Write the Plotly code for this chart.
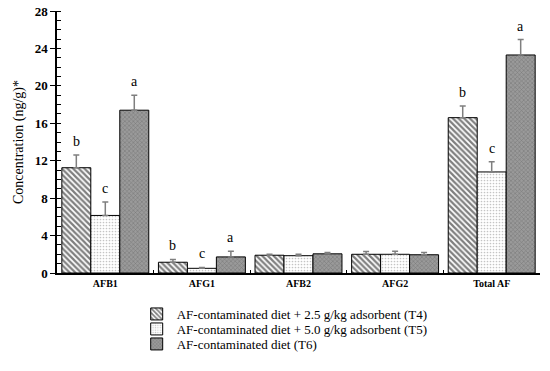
import plotly.graph_objects as go

categories = ["AFB1", "AFG1", "AFB2", "AFG2", "Total AF"]
series_names = [
    "AF-contaminated diet + 2.5 g/kg adsorbent (T4)",
    "AF-contaminated diet + 5.0 g/kg adsorbent (T5)",
    "AF-contaminated diet (T6)",
]
t4_values = [11.25, 1.15, 1.9, 2.0, 16.6]
t5_values = [6.15, 0.5, 1.85, 2.0, 10.8]
t6_values = [17.4, 1.72, 2.05, 1.95, 23.3]
t4_err = [1.35, 0.3, 0.1, 0.3, 1.25]
t5_err = [1.45, 0.1, 0.15, 0.32, 1.1]
t6_err = [1.6, 0.6, 0.15, 0.25, 1.65]
letter_cats = ["AFB1", "AFG1", "Total AF"]
t4_letters = ["b", "b", "b"]
t5_letters = ["c", "c", "c"]
t6_letters = ["a", "a", "a"]
y_ticks = [0, 4, 8, 12, 16, 20, 24, 28]

SERIF = "Liberation Serif, Times New Roman, serif"

values = [t4_values, t5_values, t6_values]
errs = [t4_err, t5_err, t6_err]
letters = [t4_letters, t5_letters, t6_letters]
patterns = [
    dict(shape="\\", fgcolor="#000000", bgcolor="#ffffff", size=4, solidity=0.55),
    dict(shape=".", fgcolor="#8a8a8a", bgcolor="#ffffff", size=3, solidity=0.25),
    dict(shape="x", fgcolor="#5a5a5a", bgcolor="#9a9a9a", size=3, solidity=0.35),
]
legend_ids = ["legend", "legend2", "legend3"]
legend_y = [-0.1565, -0.2137, -0.271]

W, H = 550, 371
ML, MR, MT, MB = 57, 10, 11, 98
BARGAP = 0.1
bar_px = (W - ML - MR) / len(categories) * (1 - BARGAP) / 3

fig = go.Figure()
for i in range(3):
    fig.add_trace(go.Bar(
        x=categories, y=values[i], name=series_names[i],
        offsetgroup=str(i), legend=legend_ids[i],
        marker=dict(color="#ffffff", pattern=patterns[i],
                    line=dict(color="#000000", width=1)),
        error_y=dict(type="data", array=errs[i], symmetric=False,
                     arrayminus=[0] * len(errs[i]),
                     color="#7f7f7f", thickness=1.5, width=3),
    ))

for i in range(3):
    for j, c in enumerate(letter_cats):
        k = categories.index(c)
        fig.add_annotation(
            x=c, y=values[i][k] + errs[i][k], text=letters[i][j],
            showarrow=False, xanchor="center", yanchor="bottom",
            xshift=(i - 1) * bar_px, yshift=4,
            font=dict(family=SERIF, size=14, color="#000000"),
        )

legend_style = dict(
    orientation="v", x=0.165, xanchor="left", yanchor="middle",
    font=dict(family=SERIF, size=13, color="#000000"),
    bgcolor="rgba(0,0,0,0)", borderwidth=0,
)
fig.update_layout(
    width=W, height=H,
    margin=dict(l=ML, r=MR, t=MT, b=MB, autoexpand=False),
    paper_bgcolor="#ffffff", plot_bgcolor="#ffffff",
    barmode="group", bargap=BARGAP, bargroupgap=0,
    font=dict(family=SERIF, color="#000000"),
    legend=dict(legend_style, y=legend_y[0]),
    legend2=dict(legend_style, y=legend_y[1]),
    legend3=dict(legend_style, y=legend_y[2]),
    showlegend=True,
)
fig.update_xaxes(
    type="category", categoryorder="array", categoryarray=categories,
    showline=True, linecolor="#000000", linewidth=1.5,
    ticks="inside", tickson="boundaries", ticklen=3, tickcolor="#000000",
    tickfont=dict(family=SERIF, size=10, color="#000000", weight="bold"),
    showgrid=False, zeroline=False,
)
fig.update_yaxes(
    range=[0, 28], tickvals=y_ticks, ticktext=[str(v) for v in y_ticks],
    showline=True, linecolor="#000000", linewidth=1.5,
    ticks="outside", ticklen=5, tickcolor="#000000",
    tickfont=dict(family=SERIF, size=13, color="#000000", weight="bold"),
    minor=dict(dtick=1, ticks="inside", ticklen=4, tickcolor="#000000", showgrid=False),
    showgrid=False, zeroline=False,
    title=dict(text="Concentration (ng/g)*", font=dict(family=SERIF, size=14, color="#000000"), standoff=8),
)

fig.write_html("out.html", config={"displayModeBar": False},
               post_script="document.body.style.margin='0';")
